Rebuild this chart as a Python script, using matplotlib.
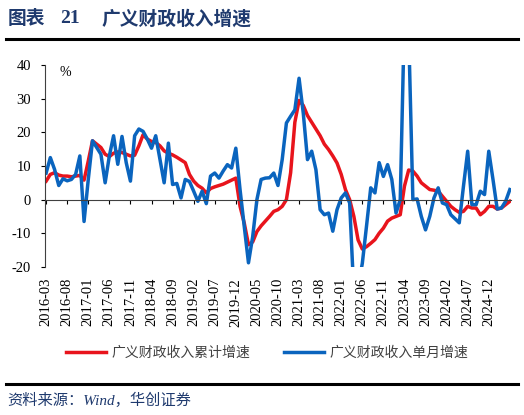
import numpy as np
import pandas as pd
import matplotlib
matplotlib.use('Agg')
import matplotlib.pyplot as plt

# 月份：2016-03 起，共 111 个月
months = pd.period_range('2016-03', periods=111, freq='M').strftime('%Y-%m').tolist()

# 广义财政收入累计增速 (%)
cum_growth = [
    5.5, 7.5, 8.0, 7.3, 7.0, 7.0, 6.8, 7.0, 7.2, 5.8,
    11.5, 17.5, 16.5, 15.5, 13.5, 12.8, 13.8, 14.2, 14.0, 13.5,
    13.0, 13.2, 16.0, 19.3, 18.0, 17.3, 17.0, 16.0, 14.5, 13.8,
    13.3, 12.6, 11.8, 11.0, 7.5, 5.5, 4.2, 3.4, 2.0, 3.3,
    3.8, 4.2, 4.6, 5.2, 5.8, 6.4, -2.0, -7.0, -13.4, -12.6,
    -9.5, -7.8, -6.4, -5.0, -3.5, -3.0, -2.0, 0.0, 8.0, 23.0,
    29.5, 28.0, 25.0, 23.0, 21.0, 19.0, 16.5, 14.9, 13.0, 10.9,
    7.5, 3.0, 0.0, -5.0, -12.0, -14.7, -14.0, -13.0, -11.9, -10.0,
    -8.5, -6.4, -5.5, -5.0, -4.5, 4.0, 8.8, 8.5, 7.0, 5.0,
    4.0, 3.0, 2.8, 2.5, 1.0, -0.5, -2.0, -3.0, -3.8, -3.5,
    -2.0, -2.5, -2.5, -4.5, -3.5, -2.0, -2.0, -2.8, -2.5, -1.5,
    -0.5,
]

# 广义财政收入单月增速 (%)
month_growth = [
    7.9, 12.5, 9.0, 4.2, 6.2, 5.6, 6.0, 7.5, 13.0, -6.5,
    6.0, 17.5, 15.5, 13.5, 5.0, 13.0, 19.0, 10.5, 18.8, 11.0,
    5.5, 19.0, 21.0, 20.3, 18.0, 15.3, 19.0, 12.0, 5.0, 16.8,
    4.5, 4.8, 0.5, 6.0, 5.4, 2.5, -0.5, 2.5, -1.2, 7.0,
    7.9, 6.4, 8.5, 10.4, 9.4, 15.3, 3.0, -8.0, -18.8, -11.0,
    0.0, 6.0, 6.4, 6.5, 7.9, 4.2, 11.9, 22.8, 24.8, 26.7,
    36.1, 25.7, 11.9, 14.4, 8.9, -3.0, -4.5, -4.0, -9.4, -3.0,
    0.5, 2.0, -1.0, -28.0, -26.0, -19.0, -7.9, 3.5, 2.0, 11.0,
    6.9, 10.4, 6.0, -4.0, 0.0, 55.0, 50.0, 0.0, 0.2, -5.0,
    -9.0, -5.0, 0.5, 3.5, -1.0, -1.5, -4.5, -5.7, -6.9, 4.0,
    14.4, -1.5, -1.5, 2.5, 1.5, 14.4, 6.0, -2.8, -2.5, -0.5,
    3.0,
]

labels = ['广义财政收入累计增速', '广义财政收入单月增速']
navy = '#1F3A6E'

plt.rcParams['font.family'] = ['Liberation Serif', 'Noto Sans CJK SC']
plt.rcParams['axes.unicode_minus'] = False

fig = plt.figure(figsize=(5.24, 4.15), dpi=100)
ax = fig.add_axes([0.086, 0.357, 0.889, 0.486])

x = np.arange(len(months))
ax.plot(x, cum_growth, color='#E8141C', lw=2.5, solid_joinstyle='round', label=labels[0])
ax.plot(x, month_growth, color='#0A64BE', lw=2.5, solid_joinstyle='round', label=labels[1])

ax.set_xlim(-0.25, 110.25)
ax.set_ylim(-20, 40)
ax.set_yticks(range(-20, 41, 10))
ax.tick_params(axis='y', direction='out', length=3, width=0.8, pad=7, labelsize=10.5)

# x 轴线在 0 处，标签放在底部
for s in ['top', 'right']:
    ax.spines[s].set_visible(False)
ax.spines['bottom'].set_position(('data', 0))
ax.spines['bottom'].set_color('#404040')
ax.spines['left'].set_color('#404040')
tick_pos = x[:106:5]
ax.set_xticks(tick_pos)
ax.tick_params(axis='x', direction='out', length=3, width=0.8, labelbottom=False)

sec = ax.secondary_xaxis('bottom')
sec.set_xticks(tick_pos, [months[i] for i in tick_pos], rotation=90)
sec.tick_params(length=0, pad=8, labelsize=10.5)
sec.spines['bottom'].set_visible(False)

ax.text(0.043, 0.965, '%', transform=ax.transAxes, fontsize=10, ha='center', va='center')

# 标题和分隔线
fig.text(0.014, 0.955, '图表', fontsize=13.5, fontweight='bold', color=navy,
         family=['Noto Sans CJK SC'], va='center')
fig.text(0.115, 0.955, '21', fontsize=14, fontweight='bold', color=navy, va='center')
fig.text(0.194, 0.955, '广义财政收入增速', fontsize=13.5, fontweight='bold', color=navy,
         family=['Noto Sans CJK SC'], va='center')
fig.add_artist(plt.Line2D([0.011, 0.989], [0.906, 0.906], color='black', lw=2.2))
fig.add_artist(plt.Line2D([0.011, 0.989], [0.075, 0.075], color='black', lw=2.2))

fig.legend(loc='center', bbox_to_anchor=(0.51, 0.149), ncol=2, frameon=False,
           handlelength=2.9, handletextpad=0.4, columnspacing=2.4,
           prop={'family': ['Noto Sans CJK SC'], 'size': 10}, labelcolor='#404040')

fig.text(0.014, 0.036, '资料来源：Wind，华创证券', fontsize=11, style='italic', color=navy,
         va='center')

fig.savefig('out.png', dpi=100)
